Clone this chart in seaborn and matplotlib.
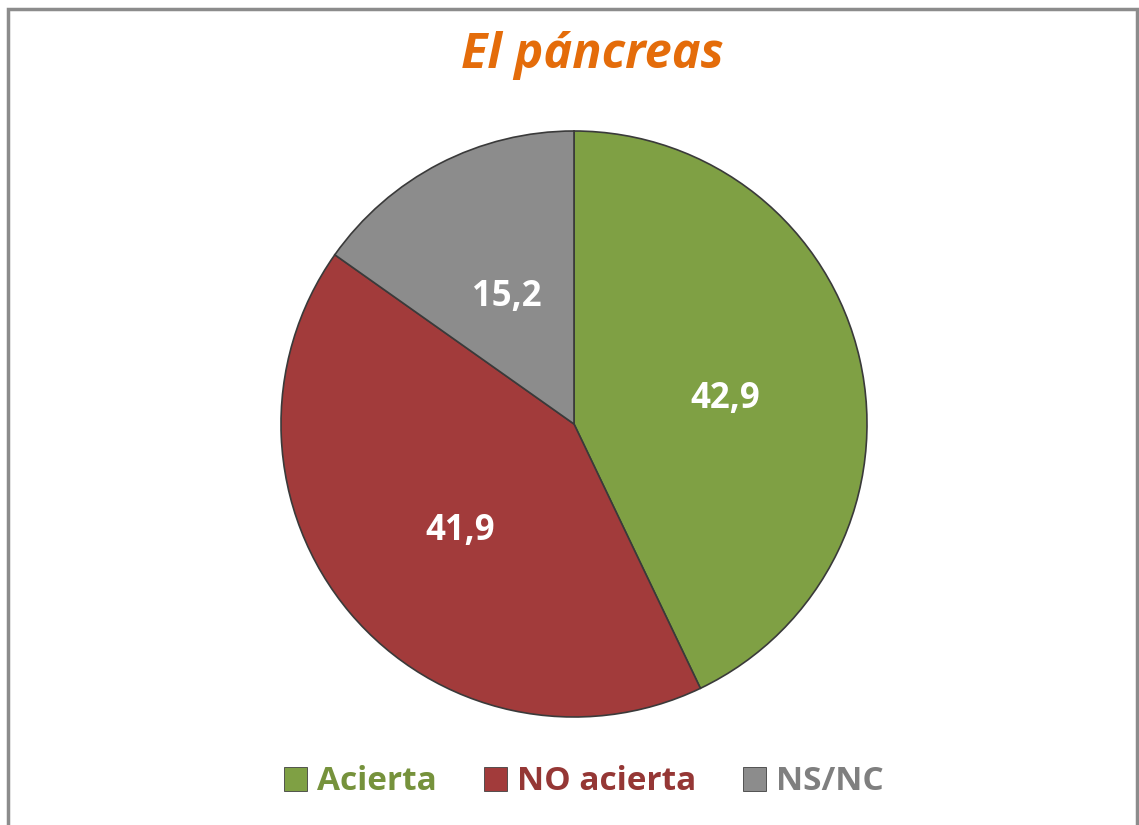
import matplotlib
matplotlib.use("Agg")
import matplotlib.pyplot as plt
import seaborn as sns
from matplotlib.patches import Rectangle

sns.set_style("white")
plt.rcParams['font.family'] = ['Open Sans', 'DejaVu Sans']

# data
categories = ['Acierta', 'NO acierta', 'NS/NC']
values = [42.9, 41.9, 15.2]
value_labels = ['42,9', '41,9', '15,2']
slice_colors = ['#7FA044', '#A23B3B', '#8C8C8C']
text_colors = ['#76923C', '#953735', '#7F7F7F']

fig = plt.figure(figsize=(11.39, 8.25), dpi=100)
fig.patch.set_facecolor('white')

# outer frame
fig.add_artist(Rectangle((8 / 1139, -0.01), (1137 - 8) / 1139, 1 - 9 / 825 + 0.01,
                         transform=fig.transFigure, fill=False,
                         edgecolor='#8C8C8C', linewidth=2.5))

# pie area: center (574, 424), radius 293 px
r = 293
cx, cy = 574, 424
ax = fig.add_axes([(cx - r) / 1139, 1 - (cy + r) / 825, 2 * r / 1139, 2 * r / 825])
wedges, texts = ax.pie(values, colors=slice_colors, startangle=90, counterclock=False,
                       radius=1.0, labels=value_labels, labeldistance=0.52,
                       wedgeprops=dict(edgecolor='#3A3A3A', linewidth=1.2),
                       textprops=dict(color='white', fontsize=25, fontweight='bold'))
for t in texts:
    t.set_ha('center')
    t.set_va('center')
    x, y = t.get_position()
    t.set_position((x + 0.01, y - 0.03))
ax.set_xlim(-1.0, 1.0)
ax.set_ylim(-1.0, 1.0)
ax.set_aspect('equal')
ax.axis('off')

fig.text(592 / 1139, 1 - 55 / 825, 'El páncreas', ha='center', va='center',
         fontsize=35, fontweight='bold', fontstyle='italic', color='#E46C0A')

# legend
handles = [Rectangle((0, 0), 1, 1, facecolor=c, edgecolor='#404040', linewidth=0.6)
           for c in slice_colors]
leg = fig.legend(handles, categories, loc='center', bbox_to_anchor=(584 / 1139, 1 - 782 / 825),
                 ncol=3, frameon=False, prop=dict(size=24, weight='bold'),
                 handlelength=0.7, handleheight=0.7,
                 handletextpad=0.3, columnspacing=1.4)
for t, c in zip(leg.get_texts(), text_colors):
    t.set_color(c)

fig.savefig('out.png', dpi=100, facecolor='white')
